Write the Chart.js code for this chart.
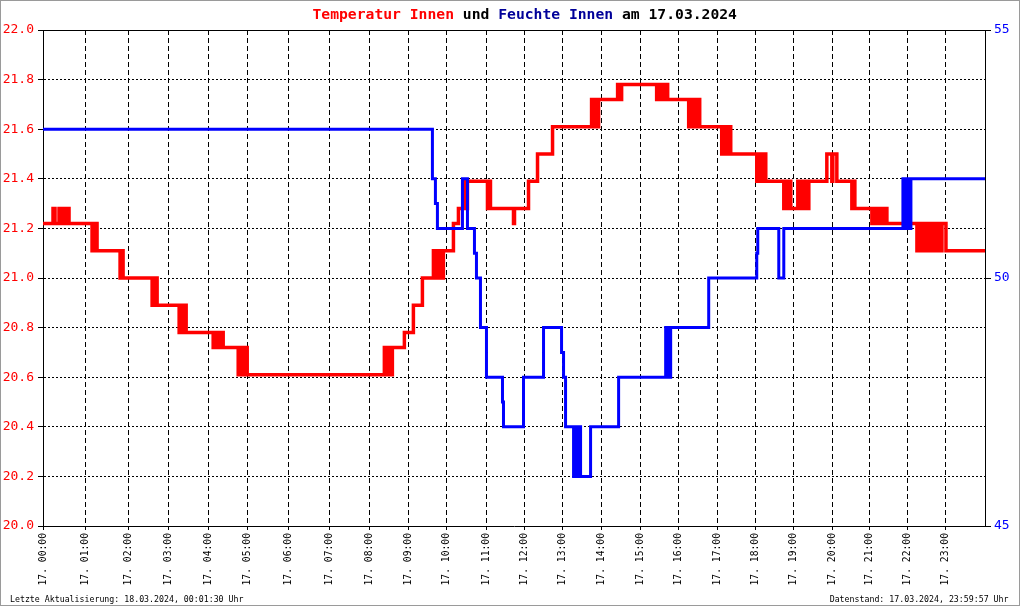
<!DOCTYPE html>
<html>
<head>
<meta charset="utf-8">
<script src="https://cdn.jsdelivr.net/npm/chart.js@4.4.1/dist/chart.umd.min.js"></script>
<style>
  body { margin: 0; background: #fff; }
  canvas { display: block; }
</style>
</head>
<body>
<canvas id="klima" width="1020" height="606"></canvas>
<script>
"use strict";

// Datensatz-Nummer, an der jede Stunde beginnt (Logger schreibt ~40 Saetze pro Stunde)
const hourStart = [0, 42, 85, 125, 165, 204, 245, 286, 326, 365, 403, 443, 481, 519, 558, 597, 635, 674, 712, 750, 789, 826, 864, 902];
const hourLabels = ["17. 00:00", "17. 01:00", "17. 02:00", "17. 03:00", "17. 04:00", "17. 05:00", "17. 06:00", "17. 07:00",
  "17. 08:00", "17. 09:00", "17. 10:00", "17. 11:00", "17. 12:00", "17. 13:00", "17. 14:00", "17. 15:00",
  "17. 16:00", "17. 17:00", "17. 18:00", "17. 19:00", "17. 20:00", "17. 21:00", "17. 22:00", "17. 23:00"];
const lastRecord = 941;

// Temperatur Innen: Datensatz, ab dem der Wert gilt
const tempIdx = [0, 10, 12, 16, 17, 18, 20, 23, 26, 49, 50, 52, 53, 54, 77, 78, 80, 109, 110, 112, 113, 114,
  136, 137, 139, 140, 141, 142, 143, 170, 172, 174, 175, 177, 178, 180, 195, 196, 198, 199, 201, 202, 204,
  341, 342, 344, 345, 347, 348, 349, 361, 370, 379, 390, 391, 394, 396, 398, 399, 400, 410, 415, 421, 422, 424,
  444, 445, 447, 470, 471, 485, 494, 509, 548, 549, 551, 552, 555, 574, 576, 578, 613, 614, 616, 617, 619, 621, 624,
  645, 646, 648, 650, 652, 653, 656, 678, 679, 681, 682, 684, 685, 687, 713, 714, 716, 717, 719, 720, 722,
  740, 742, 743, 745, 747, 754, 756, 758, 760, 762, 763, 765, 783, 788, 789, 793, 808, 809, 811,
  828, 831, 834, 836, 838, 841, 843, 873, 875, 877, 880, 882, 884, 886, 889, 891, 893, 895, 898, 902, 941];
const tempVal = [21.22, 21.28, 21.22, 21.28, 21.22, 21.28, 21.22, 21.28, 21.22, 21.11, 21.22, 21.11, 21.22, 21.11, 21.00, 21.11, 21.00, 20.89, 21.00, 20.89, 21.00, 20.89,
  20.78, 20.89, 20.78, 20.89, 20.78, 20.89, 20.78, 20.72, 20.78, 20.72, 20.78, 20.72, 20.78, 20.72, 20.61, 20.72, 20.61, 20.72, 20.61, 20.72, 20.61,
  20.72, 20.61, 20.72, 20.61, 20.72, 20.61, 20.72, 20.78, 20.89, 21.00, 21.11, 21.00, 21.11, 21.00, 21.11, 21.00, 21.11, 21.22, 21.28, 21.39, 21.28, 21.39,
  21.28, 21.39, 21.28, 21.22, 21.28, 21.39, 21.50, 21.61, 21.72, 21.61, 21.72, 21.61, 21.72, 21.78, 21.72, 21.78, 21.72, 21.78, 21.72, 21.78, 21.72, 21.78, 21.72,
  21.61, 21.72, 21.61, 21.72, 21.61, 21.72, 21.61, 21.50, 21.61, 21.50, 21.61, 21.50, 21.61, 21.50, 21.39, 21.50, 21.39, 21.50, 21.39, 21.50, 21.39,
  21.28, 21.39, 21.28, 21.39, 21.28, 21.39, 21.28, 21.39, 21.28, 21.39, 21.28, 21.39, 21.50, 21.39, 21.50, 21.39, 21.28, 21.39, 21.28,
  21.22, 21.28, 21.22, 21.28, 21.22, 21.28, 21.22, 21.11, 21.22, 21.11, 21.22, 21.11, 21.22, 21.11, 21.22, 21.11, 21.22, 21.11, 21.22, 21.11, 21.11];

// Feuchte Innen in %
const humIdx = [0, 389, 392, 394, 419, 424, 431, 433, 437, 443, 459, 460, 480, 500, 518, 520, 522, 530, 532, 534, 536, 537, 547,
  575, 622, 623, 624, 625, 627, 665, 713, 714, 735, 740, 859, 860, 862, 863, 865, 866, 867, 941];
const humVal = [53, 52, 51.5, 51, 52, 51, 50.5, 50, 49, 48, 47.5, 47, 48, 49, 48.5, 48, 47, 46, 47, 46, 47, 46, 47,
  48, 49, 48, 49, 48, 49, 50, 50.5, 51, 50, 51, 52, 51, 52, 51, 52, 51, 52, 52];

const titleParts = [["Temperatur Innen", "#ff0000"], [" und ", "#000000"], ["Feuchte Innen", "#000099"], [" am 17.03.2024", "#000000"]];
const footLeft = "Letzte Aktualisierung: 18.03.2024, 00:01:30 Uhr";
const footRight = "Datenstand: 17.03.2024, 23:59:57 Uhr";

const mono = "'DejaVu Sans Mono', monospace";

function points(xs, ys) {
  const out = [];
  for (let i = 0; i < xs.length; i++) {
    out.push({ x: xs[i], y: ys[i] });
  }
  return out;
}

// Rahmen, Titel und Fusszeilen
const rahmen = {
  id: "rahmen",
  beforeDraw(chart) {
    const ctx = chart.ctx;
    ctx.save();
    ctx.fillStyle = "#ffffff";
    ctx.fillRect(0, 0, chart.width, chart.height);
    ctx.restore();
  },
  afterDraw(chart) {
    const ctx = chart.ctx;
    const a = chart.chartArea;
    ctx.save();
    ctx.strokeStyle = "#000000";
    ctx.lineWidth = 1;
    ctx.beginPath();
    ctx.moveTo(a.left, Math.round(a.top) + 0.5);
    ctx.lineTo(a.right, Math.round(a.top) + 0.5);
    ctx.stroke();

    // Titel
    ctx.font = "bold 14.7px " + mono;
    ctx.textBaseline = "alphabetic";
    ctx.textAlign = "left";
    let x = 312.5;
    titleParts.forEach(function (p) {
      ctx.fillStyle = p[1];
      ctx.fillText(p[0], x, 18.5);
      x += ctx.measureText(p[0]).width;
    });

    // Fusszeilen
    ctx.font = "8.25px " + mono;
    ctx.fillStyle = "#000000";
    ctx.fillText(footLeft, 10, 601.5);
    ctx.textAlign = "right";
    ctx.fillText(footRight, 1008.5, 601.5);

    // aeusserer Rand
    ctx.strokeStyle = "#9a9a9a";
    ctx.strokeRect(0.5, 0.5, chart.width - 1, chart.height - 1);
    ctx.restore();
  }
};

const config = {
  type: "line",
  data: {
    datasets: [
      {
        label: "Temperatur Innen",
        data: points(tempIdx, tempVal),
        yAxisID: "yTemp",
        borderColor: "#ff0000",
        borderWidth: 3.5,
        stepped: true,
        pointRadius: 0,
        fill: false,
        order: 2
      },
      {
        label: "Feuchte Innen",
        data: points(humIdx, humVal),
        yAxisID: "yHum",
        borderColor: "#0000ff",
        borderWidth: 3,
        stepped: true,
        pointRadius: 0,
        fill: false,
        order: 1
      }
    ]
  },
  options: {
    responsive: false,
    animation: false,
    layout: { padding: { top: 30, left: 0, right: 0, bottom: 0 } },
    plugins: {
      legend: { display: false },
      tooltip: { enabled: false },
      title: { display: false }
    },
    scales: {
      x: {
        type: "linear",
        min: 0,
        max: lastRecord,
        afterBuildTicks: function (axis) {
          axis.ticks = hourStart.map(function (v) { return { value: v }; });
        },
        afterFit: function (scale) { scale.height = 80; },
        ticks: {
          autoSkip: false,
          minRotation: 90,
          maxRotation: 90,
          padding: 3,
          color: "#000000",
          font: { family: mono, size: 9.7 },
          callback: function (value, index) { return hourLabels[index]; }
        },
        grid: { color: "#000000", lineWidth: 1, tickLength: 4 },
        border: { display: true, color: "#000000", width: 1, dash: [5, 3] }
      },
      yTemp: {
        type: "linear",
        position: "left",
        min: 20,
        max: 22,
        afterFit: function (scale) { scale.width = 43; },
        ticks: {
          stepSize: 0.2,
          padding: 4,
          color: "#ff0000",
          font: { family: mono, size: 13 },
          callback: function (v) { return v.toFixed(1); }
        },
        grid: { color: "#000000", lineWidth: 1, tickLength: 5 },
        border: { display: true, color: "#000000", width: 1, dash: [2, 2] }
      },
      yHum: {
        type: "linear",
        position: "right",
        min: 45,
        max: 55,
        afterFit: function (scale) { scale.width = 35; },
        ticks: {
          stepSize: 5,
          padding: 3,
          color: "#0000ff",
          font: { family: mono, size: 13 }
        },
        grid: { drawOnChartArea: false, color: "#000000", lineWidth: 1, tickLength: 6 },
        border: { display: true, color: "#000000", width: 1 }
      }
    }
  },
  plugins: [rahmen]
};

const klimaChart = new Chart(document.getElementById("klima"), config);
</script>
</body>
</html>
